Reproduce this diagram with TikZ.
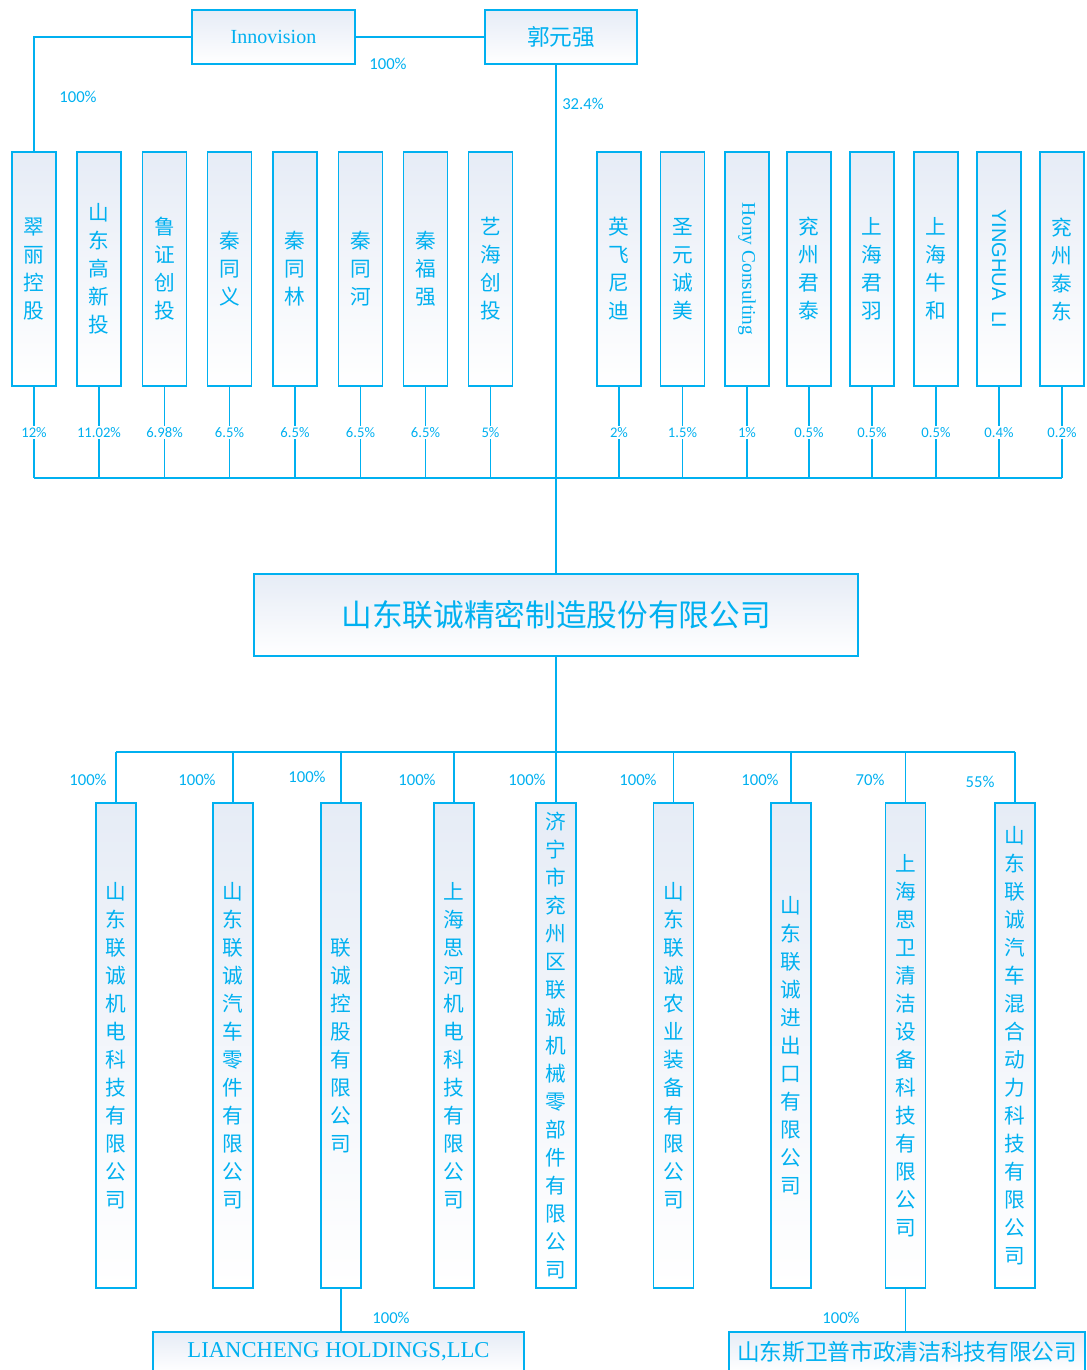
\documentclass[tikz,border=0pt]{standalone}
\usepackage{fontspec}
\setmainfont{Liberation Serif}
\newfontfamily\cjk{Noto Sans CJK SC}
\newfontfamily\calib{Carlito}
\newfontfamily\arialish{Liberation Sans}
\usepackage{tikz}
\usetikzlibrary{positioning}
\usepackage{xcolor}
\definecolor{lineblue}{RGB}{0,176,240}
\definecolor{boxtop}{RGB}{230,236,246}
\tikzset{
  link/.style={draw=lineblue, line width=1.3pt},
  box/.style={draw=lineblue, line width=1.4pt, top color=boxtop, bottom color=white,
    inner sep=0pt, text=lineblue, align=center},
  holder/.style={box, minimum width=33pt, minimum height=175.5pt,
    font=\cjk\fontsize{15.5}{21}\selectfont},
  subco/.style={box, minimum width=30pt, minimum height=363.75pt,
    font=\cjk\fontsize{15.5}{21}\selectfont},
  pct/.style={text=lineblue, inner sep=1pt, font=\calib\fontsize{12.5}{14}\selectfont},
  toppct/.style={pct, fill=white, font=\calib\fontsize{11}{12}\selectfont},
}

\begin{document}
\begin{tikzpicture}[x=0.75pt, y=-0.75pt]
    \clip (0,0) rectangle (1087,1370);

    % top owners
    \node[box, minimum width=122.25pt, minimum height=40.5pt,
      font=\fontsize{15}{17}\selectfont] at (273.5,37) (inno) {Innovision};
    \node[box, minimum width=114pt, minimum height=40.5pt,
      font=\cjk\fontsize{17}{19}\selectfont] at (561,37) (guo) {郭元强};

    % shareholders
    \node[holder] at (34,269) (h1) {翠\\丽\\控\\股};
    \node[holder] at (99,269) (h2) {山\\东\\高\\新\\投};
    \node[holder] at (164.5,269) (h3) {鲁\\证\\创\\投};
    \node[holder] at (229.5,269) (h4) {秦\\同\\义};
    \node[holder] at (295,269) (h5) {秦\\同\\林};
    \node[holder] at (360.5,269) (h6) {秦\\同\\河};
    \node[holder] at (425.5,269) (h7) {秦\\福\\强};
    \node[holder] at (490.5,269) (h8) {艺\\海\\创\\投};
    \node[holder] at (619,269) (h9) {英\\飞\\尼\\迪};
    \node[holder] at (682.5,269) (h10) {圣\\元\\诚\\美};
    \node[holder] at (747,269) (h11)
      {\rotatebox{-90}{\rmfamily\fontsize{14.5}{16}\selectfont Hony Consulting}};
    \node[holder] at (809,269) (h12) {兖\\州\\君\\泰};
    \node[holder] at (872,269) (h13) {上\\海\\君\\羽};
    \node[holder] at (936,269) (h14) {上\\海\\牛\\和};
    \node[holder] at (999,269) (h15)
      {\rotatebox{-90}{\arialish\fontsize{15}{17}\selectfont YINGHUA\ \ LI}};
    \node[holder] at (1062,269) (h16) {兖\\州\\泰\\东};

    % company
    \node[box, minimum width=453pt, minimum height=61.5pt,
      font=\cjk\fontsize{23}{25}\selectfont] at (556,615) (main) {山东联诚精密制造股份有限公司};

    % subsidiaries
    \node[subco] at (116,1045.5) (c1) {山\\东\\联\\诚\\机\\电\\科\\技\\有\\限\\公\\司};
    \node[subco] at (233,1045.5) (c2) {山\\东\\联\\诚\\汽\\车\\零\\件\\有\\限\\公\\司};
    \node[subco] at (341,1045.5) (c3) {联\\诚\\控\\股\\有\\限\\公\\司};
    \node[subco] at (454,1045.5) (c4) {上\\海\\思\\河\\机\\电\\科\\技\\有\\限\\公\\司};
    \node[subco] at (556,1045.5) (c5) {济\\宁\\市\\兖\\州\\区\\联\\诚\\机\\械\\零\\部\\件\\有\\限\\公\\司};
    \node[subco] at (673.5,1045.5) (c6) {山\\东\\联\\诚\\农\\业\\装\\备\\有\\限\\公\\司};
    \node[subco] at (791,1045.5) (c7) {山\\东\\联\\诚\\进\\出\\口\\有\\限\\公\\司};
    \node[subco] at (905.5,1045.5) (c8) {上\\海\\思\\卫\\清\\洁\\设\\备\\科\\技\\有\\限\\公\\司};
    \node[subco] at (1015,1045.5) (c9) {山\\东\\联\\诚\\汽\\车\\混\\合\\动\\力\\科\\技\\有\\限\\公\\司};

    \node[box, minimum width=278.25pt, minimum height=30pt,
      font=\fontsize{17}{19}\selectfont] at (338.5,1352) (llc) {LIANCHENG HOLDINGS,LLC};
    \node[box, minimum width=267pt, minimum height=30pt,
      font=\cjk\fontsize{17}{19}\selectfont] at (907,1352) (swp) {山东斯卫普市政清洁科技有限公司};

    % bus lines
    \coordinate (upbus) at (556,478);
    \coordinate (downbus) at (556,752);

    \draw[link] (inno.east) -- (guo.west);
    \draw[link] (inno.west) -| (h1.north);
    \draw[link] (main.north |- guo.south) -- (main.north);
    \draw[link] (h1.south |- upbus) -- (h16.south |- upbus);
    \foreach \h/\p in {h1/12\%, h2/11.02\%, h3/6.98\%, h4/6.5\%, h5/6.5\%, h6/6.5\%,
        h7/6.5\%, h8/5\%, h9/2\%, h10/1.5\%, h11/1\%, h12/0.5\%, h13/0.5\%,
        h14/0.5\%, h15/0.4\%, h16/0.2\%}
      \draw[link] (\h.south) -- node[toppct] {\p} (\h.south |- upbus);

    \draw[link] (main.south) -- (downbus);
    \draw[link] (c1.north |- downbus) -- (c9.north |- downbus);
    \foreach \c in {c1,c2,c3,c4,c5,c6,c7,c8,c9}
      \draw[link] (\c.north |- downbus) -- (\c.north);
    \draw[link] (c3.south) -- (c3.south |- llc.north);
    \draw[link] (c8.south) -- (c8.south |- swp.north);

    % percentages
    \node[pct] at (388,64) (p-inno) {100\%};
    \node[pct] at (78,97) (p-cuili) {100\%};
    \node[pct] at (583,104) (p-guo) {32.4\%};
    \node[pct] at (88,780) (p1) {100\%};
    \node[pct] at (197,780) (p2) {100\%};
    \node[pct] at (307,777) (p3) {100\%};
    \node[pct] at (417,780) (p4) {100\%};
    \node[pct] at (527,780) (p5) {100\%};
    \node[pct] at (638,780) (p6) {100\%};
    \node[pct] at (760,780) (p7) {100\%};
    \node[pct] at (870,780) (p8) {70\%};
    \node[pct] at (980,782) (p9) {55\%};
    \node[pct] at (391,1318) (p-llc) {100\%};
    \node[pct] at (841,1318) (p-swp) {100\%};
  \end{tikzpicture}
\end{document}
